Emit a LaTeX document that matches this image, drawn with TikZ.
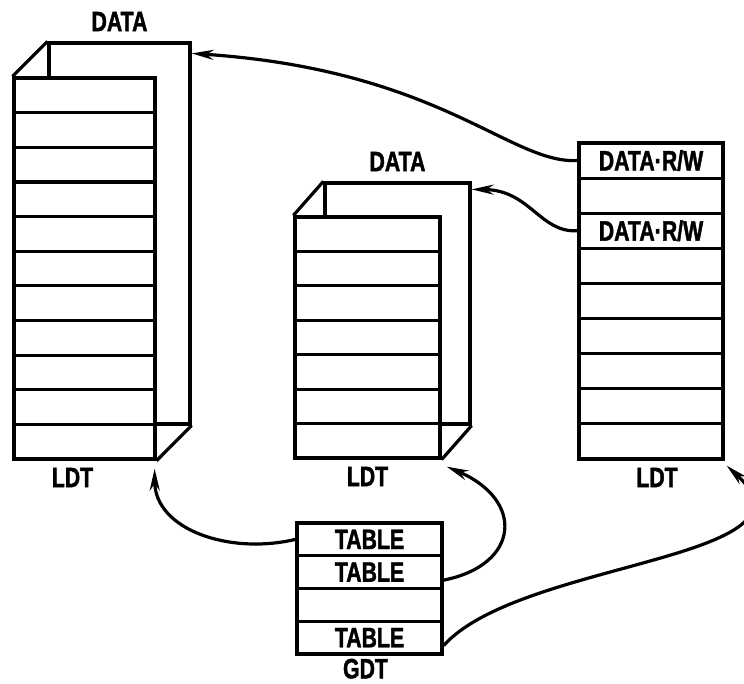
\documentclass[tikz,border=0pt]{standalone}
\usepackage{fontspec}
\newfontfamily\lblfont[FakeStretch=0.76,FakeBold=1.5]{Liberation Sans}
\usepackage{tikz}
\usetikzlibrary{arrows.meta,positioning,calc}

\tikzset{
  tblrow/.style n args={2}{draw, fill=white, line width=3.2pt, inner sep=0pt, minimum width=#1, minimum height=#2, font=\lblfont\bfseries\fontsize{28}{28}\selectfont},
  backbox/.style={draw, line width=3.2pt, inner sep=0pt},
  lbl/.style={inner sep=0pt, font=\lblfont\bfseries\fontsize{28}{28}\selectfont},
  ptr/.style={line width=3.2pt, -{Stealth[length=22pt,width=10pt]}},
}

\begin{document}
\begin{tikzpicture}[x=1pt,y=-1pt]
\useasboundingbox (0,0) rectangle (744,684);

\node[backbox, minimum width=141pt, minimum height=381pt] (ldtAback) at (119.5,233.5) {};
\foreach \i in {1,...,11}
  \node[tblrow={141pt}{34.64pt}] (ldtA-\i) at (84.5,{78+34.64*(\i-0.5)}) {};
\draw[line width=3.2pt] (ldtAback.north west) -- (ldtA-1.north west);
\draw[line width=3.2pt] (ldtAback.south east) -- (ldtA-11.south east);
\node[lbl, above=10pt of ldtAback] (dataA) {DATA};
\node[lbl, below=7pt of ldtA-11, xshift=-12pt] (ldtAlbl) {LDT};

\node[backbox, minimum width=145pt, minimum height=241pt] (ldtBback) at (397.5,303.5) {};
\foreach \i in {1,...,7}
  \node[tblrow={145pt}{34.43pt}] (ldtB-\i) at (367.5,{217+34.43*(\i-0.5)}) {};
\draw[line width=3.2pt] (ldtBback.north west) -- (ldtB-1.north west);
\draw[line width=3.2pt] (ldtBback.south east) -- (ldtB-7.south east);
\node[lbl, above=10pt of ldtBback] (dataB) {DATA};
\node[lbl, below=7pt of ldtB-7] (ldtBlbl) {LDT};

\foreach \i/\txt in {1/{DATA·R/W},2/,3/{DATA·R/W},4/,5/,6/,7/,8/,9/}
  \node[tblrow={144pt}{35.11pt}] (ldtC-\i) at (651,{143+35.11*(\i-0.5)}) {\txt};
\node[lbl, below=7pt of ldtC-9, xshift=6pt] (ldtClbl) {LDT};

\foreach \i/\txt in {1/TABLE,2/TABLE,3/,4/TABLE}
  \node[tblrow={145pt}{32.75pt}] (gdt-\i) at (369.5,{523+32.75*(\i-0.5)}) {\txt};
\node[lbl, below=3pt of gdt-4, xshift=-4pt] (gdtlbl) {GDT};

\draw[ptr] (ldtC-1.west) .. controls (510,164) and (440,70) .. ([yshift=-12pt]ldtAback.north east);
\draw[ptr] (ldtC-3.west) .. controls (540,233) and (530,190) .. ([yshift=-8pt]ldtBback.north east);
\draw[ptr] (gdt-1.west) .. controls (230,555) and (155,530) .. ([xshift=-2pt,yshift=-8pt]ldtA-11.south east);
\draw[ptr] ([yshift=-8pt]gdt-2.east) .. controls (520,565) and (525,500) .. ([xshift=5pt,yshift=-7pt]ldtB-7.south east);
\draw[ptr] ([yshift=-8pt]gdt-4.east) .. controls (520,560) and (830,560) .. ([xshift=2pt,yshift=-5pt]ldtC-9.south east);
\end{tikzpicture}
\end{document}
